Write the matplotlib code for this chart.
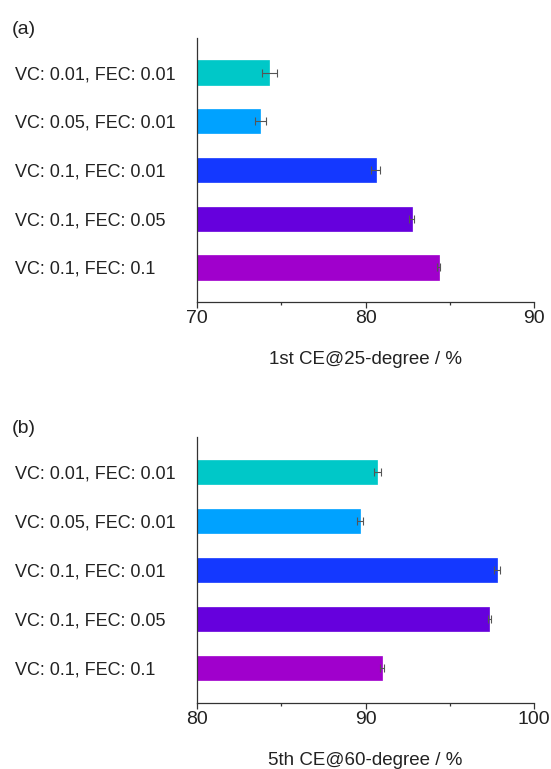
import numpy as np
import matplotlib
matplotlib.use("Agg")
import matplotlib.pyplot as plt
from matplotlib.ticker import MultipleLocator

plt.rcParams['font.family'] = ['Liberation Sans', 'DejaVu Sans']

# categories, top to bottom as in the picture
labels = ["VC: 0.01, FEC: 0.01", "VC: 0.05, FEC: 0.01", "VC: 0.1, FEC: 0.01",
          "VC: 0.1, FEC: 0.05", "VC: 0.1, FEC: 0.1"]
bar_colors = ["#00C8C8", "#00A2FF", "#1438FF", "#6600DD", "#A000CC"]

# (a) first cycle CE at 25 degree
ce_25 = [74.3, 73.75, 80.6, 82.75, 84.35]
err_25 = [0.42, 0.32, 0.25, 0.15, 0.08]

# (b) 5th cycle CE at 60 degree
ce_60 = [90.7, 89.65, 97.8, 97.35, 91.0]
err_60 = [0.22, 0.18, 0.18, 0.08, 0.12]

fig = plt.figure(figsize=(5.51, 7.69), dpi=100)

W, H = 551.0, 769.0
ax_a = fig.add_axes([197 / W, 1 - 302 / H, (534 - 197) / W, (302 - 38) / H])
ax_b = fig.add_axes([197 / W, 1 - 703 / H, (534 - 197) / W, (703 - 437) / H])


def draw_panel(ax, vals, errs, xlim, xlabel, tag):
    y = np.arange(len(labels))[::-1]
    ax.barh(y, vals, height=0.5, left=0, color=bar_colors, edgecolor=bar_colors,
            linewidth=0.5, zorder=2)
    ax.errorbar(vals, y, xerr=errs, fmt='none', ecolor='#555555', elinewidth=0.8,
                capsize=3, capthick=0.8, zorder=3)
    ax.set_xlim(*xlim)
    ax.set_ylim(-0.71, 4.71)
    ax.set_yticks(y)
    ax.set_yticklabels(labels, fontsize=13, ha='left', color='#222222')
    ax.tick_params(axis='y', length=0, pad=131)
    ax.xaxis.set_major_locator(MultipleLocator(10))
    ax.xaxis.set_minor_locator(MultipleLocator(5))
    ax.tick_params(axis='x', which='major', length=4, width=0.9, labelsize=14,
                   color='#333333', labelcolor='#222222', pad=2)
    ax.tick_params(axis='x', which='minor', length=2.5, width=0.9, color='#333333')
    for s in ['top', 'right']:
        ax.spines[s].set_visible(False)
    for s in ['left', 'bottom']:
        ax.spines[s].set_color('#333333')
        ax.spines[s].set_linewidth(0.9)
    ax.set_xlabel(xlabel, fontsize=13.5, color='#222222', labelpad=17)
    ax.text(-197 / 337 + 12 / 337, 1.0, tag, transform=ax.transAxes, fontsize=14,
            ha='left', va='bottom', color='#222222')


draw_panel(ax_a, ce_25, err_25, (70, 90), "1st CE@25-degree / %", "(a)")
draw_panel(ax_b, ce_60, err_60, (80, 100), "5th CE@60-degree / %", "(b)")

fig.savefig("out.png", dpi=100)
